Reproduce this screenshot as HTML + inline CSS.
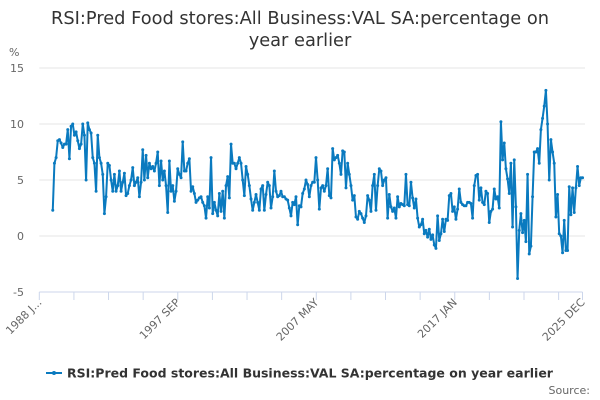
<!DOCTYPE html>
<html><head><meta charset="utf-8"><style>
body{margin:0;background:#fff;font-family:"DejaVu Sans","Liberation Sans",sans-serif}
svg{display:block}
</style></head><body>
<svg id="chart" width="600" height="400" xmlns="http://www.w3.org/2000/svg" font-family="DejaVu Sans, Liberation Sans, sans-serif">
<text x="300" y="24" text-anchor="middle" font-size="17.8" fill="#333">RSI:Pred Food stores:All Business:VAL SA:percentage on</text>
<text x="300" y="46" text-anchor="middle" font-size="17.8" fill="#333">year earlier</text>
<text x="9" y="56" font-size="11" fill="#666">%</text>
<g id="grid"></g><g id="xaxis"></g><g id="series"></g>
<g>
<line x1="46" y1="373" x2="62" y2="373" stroke="#0a7abf" stroke-width="2"/>
<circle cx="54" cy="373" r="2" fill="#0a7abf"/>
<text x="67" y="377.5" font-size="12.5" font-weight="bold" fill="#333">RSI:Pred Food stores:All Business:VAL SA:percentage on year earlier</text>
</g>
<text x="590" y="394" text-anchor="end" font-size="11" fill="#666">Source:</text>
</svg>
<script>
const yTicks=[15,10,5,0,-5];
const xTickLabels=["1988 J...","1997 SEP","2007 MAY","2017 JAN","2025 DEC"];
const xLabelMonths=[0,116,232,348,455];
const startYear=1988.94, endYear=2025.92;
const values=[2.3,6.5,7,8.5,8.6,8.3,7.9,8.2,8.2,9.5,6.9,9.8,10,9,9.3,8.5,7.8,8.2,10,9,5,10.1,9.5,9.2,7,6.5,4,9,7,6.5,5.5,2,3.5,6.5,6.3,5,4,5.5,4,4.5,5.8,4,4.8,5.6,3.6,3.8,4.5,5,6.1,4.5,4.8,5.2,3.5,4.8,7.7,5,7.2,5.2,6.5,6,6.2,5.8,6.5,7.5,4.5,6.7,5,5.8,4.5,2.1,6.7,4,4.5,3.1,4,6,5.5,5.2,8.4,5.8,5.8,6.5,6.9,4,4.4,3.8,3,3.2,3.4,3.5,3,2.7,1.6,3.5,2.5,7,2,3,2.3,1.8,3.8,2.2,4,1.6,4.5,5.3,3.4,8.2,6.5,6.5,6,6.5,7,6.5,5,3.6,6.2,5.5,4.5,3.3,2.3,3,3.7,3,2.3,4.2,4.5,2.3,3.7,4.8,4.5,2.5,3.5,5.8,4,3.5,3.6,4,3.5,3.5,3.3,3.2,2.5,1.8,3,2.8,3.5,1,2.7,2.6,3.8,4.2,5,4.6,3.5,
4.5,4.8,4.8,7,5,2.4,4.3,4.5,4,4.5,6,3.6,3.4,7.8,6.8,7,7.2,6.5,5.5,7.6,7.5,4.3,6.5,5.5,4.5,3.2,3.6,1.7,1.5,2.2,2,1.6,1.2,1.8,3.6,3.2,2.2,4.5,5.5,2.3,4.5,6,5.8,4.5,5,5.2,1.6,3.7,2.6,2.2,2.5,1.6,3.5,2.6,2.9,2.8,2.7,5.5,2.8,2.7,4.8,3.4,2.5,3.3,1.6,0.8,1.0,1.5,0.2,0.5,-0.1,0.6,-0.3,0.1,-0.8,-1.1,1.8,-0.4,0.2,1.5,0.4,1.5,1.4,3.6,3.8,2.2,2.6,1.5,2.4,4.2,3,2.8,2.7,2.7,3,3,2.9,1.6,4.5,5.4,5.5,3.2,4.3,3,2.8,4,3.8,1.2,2.2,2.4,4.2,3.3,3.5,2.5,10.2,6.8,8.3,6,5.1,3.8,6.5,0.8,6.8,2.6,-3.8,0.5,2,0.3,1.4,-0.5,5.5,-1.6,-0.9,3.5,7.5,7.5,7.8,6.5,9.5,10.5,11.6,13,10,5,8.6,7.5,6.5,1.7,3.7,0.2,0,-1.5,1.4,-1.3,-1.3,4.4,1.9,4.3,2.1,4.3,6.2,4.5,5.2,5.2];
const NS="http://www.w3.org/2000/svg";
const X0=39.3,X1=582.5,Y0=236,PPU=11.2;
const xm=m=>X0+m*(X1-X0)/455;
const xy=yr=>xm((yr-1988)*12);
const yv=v=>Y0-v*PPU;
function mk(t,a,p){const e=document.createElementNS(NS,t);for(const k in a)e.setAttribute(k,a[k]);p.appendChild(e);return e;}
const grid=document.getElementById('grid');
yTicks.forEach(v=>{
 if(v>-5){const l=mk('line',{x1:X0,x2:585,y1:yv(v),y2:yv(v),stroke:'#e6e6e6'},grid);
 
 }
 const t=mk('text',{x:24,y:yv(v)+4,'text-anchor':'end','font-size':11,fill:'#666'},grid);
 
 
 t.textContent=v;
});
const xa=document.getElementById('xaxis');
const al=mk('line',{x1:X0,x2:X1,y1:292,y2:292,stroke:'#ccd6eb'},xa);


const tickMonths=[];for(let m=0;m<455;m+=29)tickMonths.push(m);tickMonths.push(455);
tickMonths.forEach(m=>{const l=mk('line',{x1:xm(m),x2:xm(m),y1:292,y2:300,stroke:'#ccd6eb'},xa);
 
 });
xTickLabels.forEach((s,i)=>{const x=xm(xLabelMonths[i])+3,y=303;
 const t=mk('text',{x:x,y:y,'text-anchor':'end','font-size':11,fill:'#666',transform:`rotate(-45 ${x} ${y})`},xa);
 
 
 t.textContent=s;});
const sg=document.getElementById('series');
const step=(endYear-startYear)/(values.length-1);
const pts=values.map((v,i)=>[xy(startYear+i*step),yv(v)]);
const pl=mk('polyline',{points:pts.map(p=>p[0].toFixed(2)+','+p[1].toFixed(2)).join(' '),fill:'none',stroke:'#0a7abf','stroke-width':2,'stroke-linejoin':'round'},sg);


pts.forEach(p=>{const c=mk('circle',{cx:p[0],cy:p[1],r:1.5,fill:'#0a7abf'},sg);
 
 });
</script>
</body></html>
